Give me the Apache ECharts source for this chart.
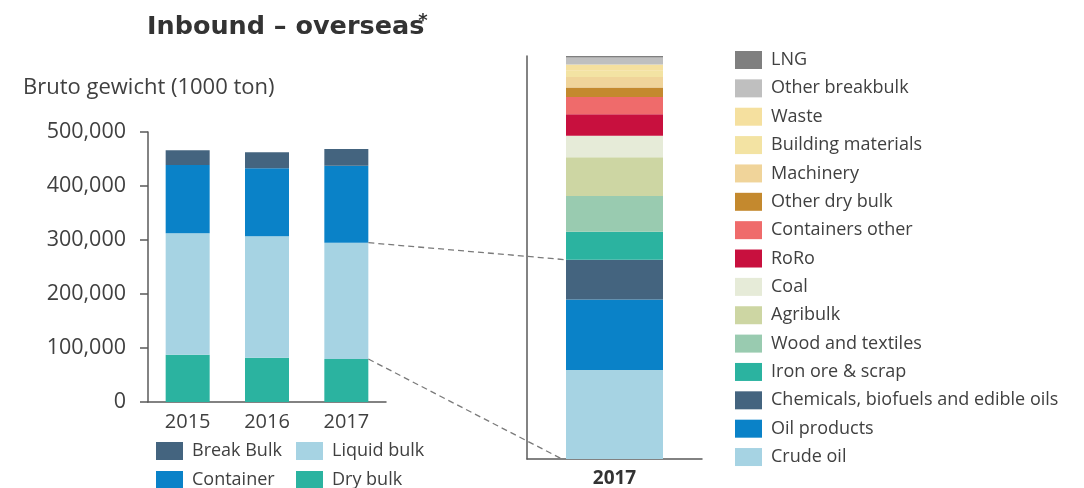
<!DOCTYPE html>
<html>
<head>
<meta charset="utf-8">
<script src="https://cdn.jsdelivr.net/npm/echarts@6/dist/echarts.min.js"></script>
<style>
  html, body { margin: 0; padding: 0; background: #ffffff; }
  #chart { width: 1084px; height: 488px; }
</style>
</head>
<body>
<div id="chart"></div>
<script>
// Inbound overseas cargo, gross weight in 1000 ton
const years = ['2015', '2016', '2017'];
const dryBulk = [87600, 82000, 79600];
const liquidBulk = [224800, 224800, 215400];
const container = [126500, 125900, 142600];
const breakBulk = [27200, 29600, 30900];
const yTicks = [0, 100000, 200000, 300000, 400000, 500000];

// 2017 breakdown by commodity (bottom to top)
const commodities2017 = [
  'Crude oil', 'Oil products', 'Chemicals, biofuels and edible oils', 'Iron ore & scrap',
  'Wood and textiles', 'Agribulk', 'Coal', 'RoRo', 'Containers other', 'Other dry bulk',
  'Machinery', 'Building materials', 'Waste', 'Other breakbulk', 'LNG'
];
const values2017 = [103600, 82000, 46400, 32500, 41800, 44900, 25100, 25200, 20100, 10900,
  12300, 7300, 7300, 8100, 1700];
const commodityColors = ['#a6d3e3', '#0a82c8', '#44647f', '#2bb3a0', '#99cbb0', '#cdd6a3',
  '#e6ebd8', '#c8103e', '#ef6b6b', '#c4892e', '#f0d49a', '#f3e3a3', '#f5e09f', '#bfbfbf', '#7f7f7f'];

const groupNames = ['Dry bulk', 'Liquid bulk', 'Container', 'Break Bulk'];
const groupData = [dryBulk, liquidBulk, container, breakBulk];
const groupColors = ['#2bb3a0', '#a6d3e3', '#0a82c8', '#44647f'];

const FONT = '"Open Sans", "Noto Sans", sans-serif';
const TEXT = '#404040';
const AXIS = '#5a5a5a';

const chart = echarts.init(document.getElementById('chart'), null, { renderer: 'canvas' });

const series = [];
groupNames.forEach((name, i) => {
  series.push({
    name, type: 'bar', stack: 'years', xAxisIndex: 0, yAxisIndex: 0,
    barWidth: 44, itemStyle: { color: groupColors[i] },
    data: groupData[i], animation: false
  });
});
commodities2017.forEach((name, i) => {
  series.push({
    name, type: 'bar', stack: 'detail', xAxisIndex: 1, yAxisIndex: 1,
    barWidth: 97, itemStyle: { color: commodityColors[i] },
    data: [values2017[i]], animation: false
  });
});

const legendText = { color: TEXT, fontSize: 18, fontFamily: FONT, padding: [0, 0, 0, 4] };
const legendBase = {
  orient: 'vertical', itemWidth: 27, itemHeight: 18, padding: 0,
  textStyle: legendText, selectedMode: false, icon: 'rect'
};

chart.setOption({
  animation: false,
  title: {
    text: '{t|Inbound – overseas}{s|*}',
    left: 147, top: 12, padding: 0,
    textStyle: {
      rich: {
        t: { fontSize: 25.5, fontWeight: 'bold', color: '#333333', fontFamily: '"DejaVu Sans", sans-serif' },
        s: { fontSize: 18, fontWeight: 'bold', color: '#333333', fontFamily: '"DejaVu Sans", sans-serif', verticalAlign: 'top', padding: [0, 0, 12, -6] }
      }
    }
  },
  legend: [
    Object.assign({ data: ['Break Bulk', 'Container'], left: 156, top: 442, height: 60, itemGap: 11 }, legendBase),
    Object.assign({ data: ['Liquid bulk', 'Dry bulk'], left: 296, top: 442, height: 60, itemGap: 11 }, legendBase),
    Object.assign({ data: commodities2017.slice().reverse(), left: 735, top: 51, itemGap: 10.36 }, legendBase)
  ],
  grid: [
    { left: 148, top: 132, width: 238, height: 270 },
    { left: 527, top: 56, width: 175, height: 404 }
  ],
  xAxis: [
    {
      type: 'category', gridIndex: 0, data: years,
      axisLine: { lineStyle: { color: AXIS, width: 1.5 } },
      axisTick: { show: false },
      axisLabel: { color: TEXT, fontSize: 20, fontFamily: FONT, margin: 10 }
    },
    {
      type: 'category', gridIndex: 1, data: ['2017'],
      axisLine: { lineStyle: { color: AXIS, width: 1.5 } },
      axisTick: { show: false },
      axisLabel: { color: '#333333', fontSize: 19, fontWeight: 'bold', fontFamily: FONT, margin: 10 }
    }
  ],
  yAxis: [
    {
      type: 'value', gridIndex: 0, min: yTicks[0], max: yTicks[yTicks.length - 1], interval: yTicks[1] - yTicks[0],
      axisLine: { show: true, lineStyle: { color: AXIS, width: 1.5 } },
      axisTick: { show: true, length: 8, lineStyle: { color: AXIS, width: 1.5 } },
      splitLine: { show: false },
      axisLabel: {
        color: TEXT, fontSize: 21.5, fontFamily: FONT, margin: 22,
        formatter: v => v.toLocaleString('en-US')
      }
    },
    {
      type: 'value', gridIndex: 1, min: 0, max: 'dataMax',
      axisLine: { show: true, lineStyle: { color: AXIS, width: 1.5 } },
      axisTick: { show: false }, axisLabel: { show: false }, splitLine: { show: false }
    }
  ],
  series
});

// Unit label and dashed connectors from the 2017 liquid-bulk segment to the commodity breakdown
function connectors() {
  const c2017 = years.length - 1;
  const dryTop = dryBulk[c2017];
  const liquidTop = dryBulk[c2017] + liquidBulk[c2017];
  const liquidDetailTop = values2017[0] + values2017[1] + values2017[2];
  const pTop = chart.convertToPixel({ gridIndex: 0 }, [c2017, liquidTop]);
  const pDry = chart.convertToPixel({ gridIndex: 0 }, [c2017, dryTop]);
  const qTop = chart.convertToPixel({ gridIndex: 1 }, [0, liquidDetailTop]);
  const qBottom = chart.convertToPixel({ gridIndex: 1 }, [0, 0]);
  const leftHalf = 44 / 2, rightHalf = 97 / 2;
  const dash = { stroke: '#7a7a7a', lineWidth: 1.3, lineDash: [6, 4] };
  chart.setOption({
    graphic: [
      {
        type: 'text', left: 23, top: 77,
        style: { text: 'Bruto gewicht (1000 ton)', fill: TEXT, fontSize: 22, fontFamily: FONT }
      },
      {
        type: 'line', silent: true, z: 5,
        shape: { x1: pTop[0] + leftHalf, y1: pTop[1], x2: qTop[0] - rightHalf, y2: qTop[1] },
        style: dash
      },
      {
        type: 'line', silent: true, z: 5,
        shape: { x1: pDry[0] + leftHalf, y1: pDry[1], x2: qBottom[0] - rightHalf - 4, y2: qBottom[1] },
        style: dash
      }
    ]
  });
}
connectors();
</script>
</body>
</html>
